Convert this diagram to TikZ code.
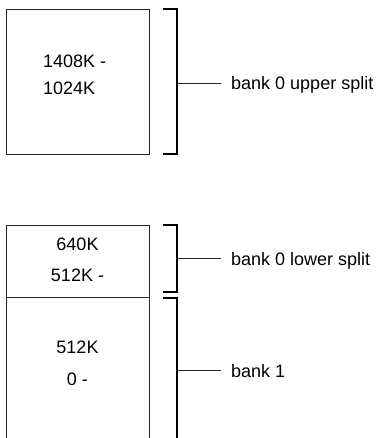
\documentclass[tikz,border=0pt]{standalone}
\usepackage{fontspec}
\setmainfont{Liberation Sans}
\begin{document}
\begin{tikzpicture}[x=1pt,y=-1pt,
  boxline/.style={draw=black!85,line width=0.8pt},
  bracketline/.style={draw=black,line width=1.1pt},
  tickline/.style={draw=black!85,line width=0.8pt},
  memtext/.style={inner sep=0pt,font=\fontsize{18}{20}\selectfont},
  labeltext/.style={inner sep=0pt,anchor=base west,font=\fontsize{18}{20}\selectfont}]
\useasboundingbox (0,0) rectangle (380,438);
% top box
\draw[boxline] (6,9) rectangle (149,154);
\node[memtext,anchor=base west] (t1) at (43,68) {1408K -};
\node[memtext,anchor=base west] (t2) at (43,95) {1024K};
% bottom box (open at bottom)
\draw[boxline] (6,440) -- (6,225) -- (149,225) -- (149,440);
\draw[boxline] (6,297) -- (149,297);
\node[memtext,anchor=base] (b1) at (77.5,250) {640K};
\node[memtext,anchor=base] (b2) at (77.5,281) {512K -};
\node[memtext,anchor=base] (b3) at (77.5,353) {512K};
\node[memtext,anchor=base] (b4) at (77.5,385) {0 -};
% brackets
\draw[bracketline] (163,9) -- (177,9) -- (177,154) -- (163,154);
\draw[bracketline] (163,225) -- (177,225) -- (177,292) -- (163,292);
\draw[bracketline] (163,298) -- (177,298) -- (177,440);
% tick coordinates
\coordinate (k1s) at (177,83);
\coordinate (k1e) at (221,83);
\coordinate (k2s) at (177,258);
\coordinate (k2e) at (221,258);
\coordinate (k3s) at (177,370);
\coordinate (k3e) at (221,370);
\draw[tickline] (k1s) -- (k1e);
\draw[tickline] (k2s) -- (k2e);
\draw[tickline] (k3s) -- (k3e);
% labels
\node[labeltext] (l1) at (231,90) {bank 0 upper split};
\node[labeltext] (l2) at (231,265) {bank 0 lower split};
\node[labeltext] (l3) at (231,377) {bank 1};
\end{tikzpicture}
\end{document}
